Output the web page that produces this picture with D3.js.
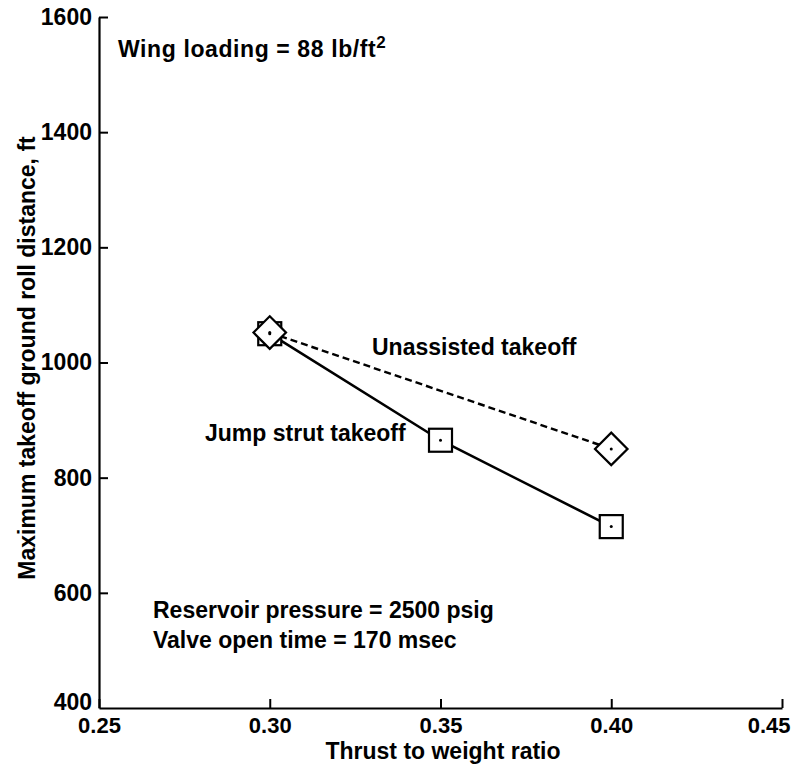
<!DOCTYPE html>
<html>
<head>
<meta charset="utf-8">
<script src="https://cdn.jsdelivr.net/npm/d3@7"></script>
<style>
  body { margin: 0; background: #fff; }
  svg text { font-family: "Liberation Sans", Arial, sans-serif; font-weight: bold; fill: #000; }
</style>
</head>
<body>
<div id="svg_area"></div>
<script>
// values
var xTicks = [0.25, 0.30, 0.35, 0.40, 0.45];
var yTicks = [400, 600, 800, 1000, 1200, 1400, 1600];

var jumpX = [0.30, 0.35, 0.40];
var jumpY = [1050, 865, 715];

var unassistedX = [0.30, 0.40];
var unassistedY = [1052, 850];

var svg = d3.select('#svg_area').append('svg')
  .attr('width', 799).attr('height', 770);

var scaleX = d3.scaleLinear().domain([0.25, 0.45]).range([99, 782]);
var scaleY = d3.scaleLinear().domain([400, 1600]).range([708, 17]);

// x axis, ticks pointing up into the plot
var xAxis = svg.append('g')
  .attr('transform', 'translate(0,' + scaleY(400) + ')')
  .call(d3.axisBottom(scaleX).tickValues(xTicks).tickFormat(d3.format('.2f'))
    .tickSizeInner(-9).tickSizeOuter(0).tickPadding(14));
xAxis.select('.domain').attr('stroke-width', 2.2);
xAxis.selectAll('.tick line').attr('stroke-width', 2);
xAxis.selectAll('.tick text').attr('font-size', 22).attr('dy', '0.5em');
// last label sits a little inside the right edge in the original
xAxis.selectAll('.tick').filter(function(d) { return d === 0.45; })
  .select('text').attr('text-anchor', 'end').attr('x', 8);

// y axis, ticks pointing right
var yAxis = svg.append('g')
  .attr('transform', 'translate(' + scaleX(0.25) + ',0)')
  .call(d3.axisLeft(scaleY).tickValues(yTicks).tickFormat(d3.format('d'))
    .tickSizeInner(-9).tickSizeOuter(0).tickPadding(7));
yAxis.select('.domain').attr('stroke-width', 2.2);
yAxis.selectAll('.tick line').attr('stroke-width', 2);
yAxis.selectAll('.tick text').attr('font-size', 23);
var tick400 = yAxis.selectAll('.tick').filter(function(d) { return d === 400; });
tick400.select('line').remove();
tick400.select('text').attr('dy', '0.05em');

// axis titles
svg.append('text')
  .attr('x', 443).attr('y', 759)
  .attr('text-anchor', 'middle')
  .attr('font-size', 23)
  .text('Thrust to weight ratio');

svg.append('text')
  .attr('transform', 'translate(35,358) rotate(-90)')
  .attr('text-anchor', 'middle')
  .attr('font-size', 23)
  .text('Maximum takeoff ground roll distance, ft');

// lines
var jumpData = jumpX.map(function(x, i) { return {x: x, y: jumpY[i]}; });
var unData = unassistedX.map(function(x, i) { return {x: x, y: unassistedY[i]}; });

var line = d3.line()
  .x(function(d) { return scaleX(d.x); })
  .y(function(d) { return scaleY(d.y); });

svg.append('path')
  .datum(jumpData)
  .attr('fill', 'none')
  .attr('stroke', '#000')
  .attr('stroke-width', 2.6)
  .attr('d', line);

svg.append('path')
  .datum(unData)
  .attr('fill', 'none')
  .attr('stroke', '#000')
  .attr('stroke-width', 2.4)
  .attr('stroke-dasharray', '7,4')
  .attr('d', line);

// markers
var sq = 23;
svg.selectAll('.jump')
  .data(jumpData)
  .enter()
  .append('rect')
  .attr('class', 'jump')
  .attr('x', function(d) { return scaleX(d.x) - sq / 2; })
  .attr('y', function(d) { return scaleY(d.y) - sq / 2; })
  .attr('width', sq).attr('height', sq)
  .attr('fill', '#fff').attr('stroke', '#000').attr('stroke-width', 2.2);

svg.selectAll('.unassisted')
  .data(unData)
  .enter()
  .append('rect')
  .attr('class', 'unassisted')
  .attr('x', -sq / 2).attr('y', -sq / 2)
  .attr('width', sq).attr('height', sq)
  .attr('transform', function(d) {
    return 'translate(' + scaleX(d.x) + ',' + scaleY(d.y) + ') rotate(45)';
  })
  .attr('fill', '#fff').attr('stroke', '#000').attr('stroke-width', 2.2);

// center dots
svg.selectAll('.dot')
  .data(jumpData.concat(unData))
  .enter()
  .append('circle')
  .attr('class', 'dot')
  .attr('cx', function(d) { return scaleX(d.x); })
  .attr('cy', function(d) { return scaleY(d.y); })
  .attr('r', 1.5)
  .attr('fill', '#000');

// annotations
var wing = svg.append('text')
  .attr('x', 118).attr('y', 57)
  .attr('font-size', 23)
  .attr('letter-spacing', 0.6)
  .text('Wing loading = 88 lb/ft');
wing.append('tspan')
  .attr('dy', -9).attr('font-size', 17)
  .text('2');

svg.append('text')
  .attr('x', 372).attr('y', 355)
  .attr('font-size', 23)
  .text('Unassisted takeoff');

svg.append('text')
  .attr('x', 205).attr('y', 441)
  .attr('font-size', 23)
  .text('Jump strut takeoff');

svg.append('text')
  .attr('x', 153).attr('y', 618)
  .attr('font-size', 23)
  .text('Reservoir pressure = 2500 psig');

svg.append('text')
  .attr('x', 153).attr('y', 648)
  .attr('font-size', 23)
  .text('Valve open time = 170 msec');
</script>
</body>
</html>
